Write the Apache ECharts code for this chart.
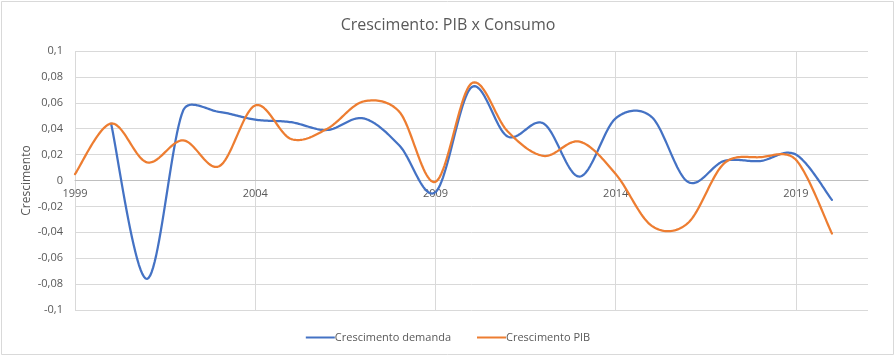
<!DOCTYPE html>
<html>
<head>
<meta charset="utf-8">
<script src="https://cdn.jsdelivr.net/npm/echarts@6/dist/echarts.min.js"></script>
<style>
html,body{margin:0;padding:0;background:#fff;}
#chart{width:896px;height:359px;}
</style>
</head>
<body>
<div id="chart"></div>
<script>
const years = ['1999','2000','2001','2002','2003','2004','2005','2006','2007','2008','2009','2010','2011','2012','2013','2014','2015','2016','2017','2018','2019','2020','2021'];
const demanda = [null, 0.044, -0.076, 0.054, 0.053, 0.047, 0.045, 0.039, 0.048, 0.027, -0.009, 0.072, 0.034, 0.044, 0.003, 0.048, 0.049, -0.001, 0.015, 0.015, 0.020, -0.015, null];
const pib = [0.005, 0.044, 0.014, 0.031, 0.011, 0.058, 0.032, 0.040, 0.061, 0.053, -0.001, 0.075, 0.038, 0.019, 0.030, 0.005, -0.035, -0.033, 0.013, 0.018, 0.016, -0.041, null];
const yTicks = {min: -0.1, max: 0.1, interval: 0.02};

const chart = echarts.init(document.getElementById('chart'), null, {renderer: 'canvas'});
const font = '"Open Sans", "Liberation Sans", sans-serif';
const gridTop = 51, gridBottom = 49, H = 359;
const plotH = H - gridTop - gridBottom;
const zeroOffset = -plotH * (0 - yTicks.min) / (yTicks.max - yTicks.min);

// Excel-like smoothed line (Catmull-Rom style Bezier with limited arms)
function smoothSeries(name, values, color, z) {
  const pts = [];
  values.forEach((v, i) => { if (v != null) pts.push([i, v]); });
  return {
    name: name, type: 'custom', z: z,
    data: pts,
    encode: {x: 0, y: 1},
    itemStyle: {color: color},
    renderItem: function (params, api) {
      if (params.dataIndex !== 0) return null;
      const P = pts.map(p => api.coord(p));
      const n = P.length;
      const dist = (a, b) => Math.hypot(b[0] - a[0], b[1] - a[1]);
      const out = [];
      for (let i = 0; i < n - 1; i++) {
        const p0 = P[Math.max(i - 1, 0)], p1 = P[i], p2 = P[i + 1], p3 = P[Math.min(i + 2, n - 1)];
        const d12 = dist(p1, p2);
        let a = [(p2[0] - p0[0]) / 6, (p2[1] - p0[1]) / 6];
        let b = [(p3[0] - p1[0]) / 6, (p3[1] - p1[1]) / 6];
        const lim = 0.4 * d12;
        const la = Math.hypot(a[0], a[1]), lb = Math.hypot(b[0], b[1]);
        if (la > lim) { a = [a[0] * lim / la, a[1] * lim / la]; }
        if (lb > lim) { b = [b[0] * lim / lb, b[1] * lim / lb]; }
        const c1 = [p1[0] + a[0], p1[1] + a[1]];
        const c2 = [p2[0] - b[0], p2[1] - b[1]];
        const steps = 24;
        for (let s = (i === 0 ? 0 : 1); s <= steps; s++) {
          const t = s / steps, u = 1 - t;
          out.push([
            u*u*u*p1[0] + 3*u*u*t*c1[0] + 3*u*t*t*c2[0] + t*t*t*p2[0],
            u*u*u*p1[1] + 3*u*u*t*c1[1] + 3*u*t*t*c2[1] + t*t*t*p2[1]
          ]);
        }
      }
      return {
        type: 'polyline',
        shape: {points: out},
        style: {stroke: color, lineWidth: 2.25, fill: null, lineJoin: 'round', lineCap: 'round'}
      };
    }
  };
}

chart.setOption({
  animation: false,
  backgroundColor: '#fff',
  title: {
    text: 'Crescimento: PIB x Consumo',
    left: 'center', top: 12,
    textStyle: {fontFamily: font, fontSize: 16, fontWeight: 'normal', color: '#595959'}
  },
  graphic: [{
    type: 'rect', silent: true,
    shape: {x: 1.5, y: 1.5, width: 892, height: 353},
    style: {fill: 'none', stroke: '#d9d9d9', lineWidth: 1}
  }],
  legend: {
    bottom: 11, left: 'center',
    itemWidth: 29, itemHeight: 2, itemGap: 26,
    icon: 'rect',
    textStyle: {fontFamily: font, fontSize: 11, color: '#595959', padding: [0,0,0,-5]},
    data: ['Crescimento demanda', 'Crescimento PIB']
  },
  grid: {left: 75, right: 28, top: gridTop, bottom: gridBottom, containLabel: false},
  xAxis: {
    type: 'category',
    data: years,
    boundaryGap: false,
    position: 'bottom',
    offset: zeroOffset,
    axisLine: {onZero: false, lineStyle: {color: '#bfbfbf', width: 1}},
    axisTick: {show: false},
    axisLabel: {interval: 4, fontFamily: font, fontSize: 11, color: '#595959', margin: 8},
    splitLine: {show: true, interval: 4, lineStyle: {color: '#d9d9d9', width: 1}}
  },
  yAxis: {
    type: 'value',
    min: yTicks.min, max: yTicks.max, interval: yTicks.interval,
    name: 'Crescimento',
    nameLocation: 'middle', nameGap: 42, nameRotate: 90,
    nameMoveOverlap: false,
    nameTextStyle: {fontFamily: font, fontSize: 12, color: '#595959'},
    axisLine: {show: false},
    axisTick: {show: false},
    axisLabel: {
      fontFamily: font, fontSize: 11, color: '#595959', margin: 12,
      formatter: v => String(Math.round(v * 100) / 100).replace('.', ',')
    },
    splitLine: {lineStyle: {color: '#d9d9d9', width: 1}}
  },
  series: [
    smoothSeries('Crescimento demanda', demanda, '#4472C4', 2),
    smoothSeries('Crescimento PIB', pib, '#ED7D31', 3)
  ]
});
</script>
</body>
</html>
